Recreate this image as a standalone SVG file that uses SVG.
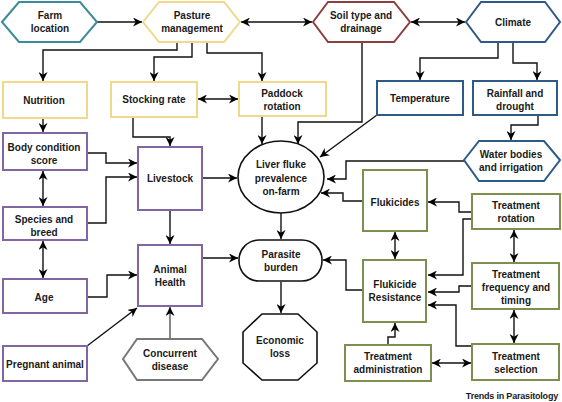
<svg xmlns="http://www.w3.org/2000/svg" width="562" height="402" viewBox="0 0 562 402">
<defs>
<marker id="ah" viewBox="0 0 10 10" refX="10" refY="5" markerWidth="9" markerHeight="9" markerUnits="userSpaceOnUse" orient="auto-start-reverse">
<path d="M0,0 L10,5 L0,10 L3,5 z" fill="#000"/>
</marker>
</defs>
<style>
text{font-family:"Liberation Sans",Arial,sans-serif;font-weight:bold;font-size:10px;fill:#1a1a1a;text-anchor:middle}
.c{fill:none;stroke:#111;stroke-width:1.4;marker-end:url(#ah)}
.d{fill:none;stroke:#111;stroke-width:1.4;marker-start:url(#ah);marker-end:url(#ah)}
.n{fill:#fff;stroke-width:2}
.teal{stroke:#3f8a9c}
.yel{stroke:#efd98c}
.red{stroke:#8c3f3f}
.blue{stroke:#2e5a88}
.pur{stroke:#8266a3}
.grn{stroke:#7d8f4e}
.gry{stroke:#777}
.blk{stroke:#111}
</style>
<g id="connectors">
<path class="c" d="M97,22 H142"/>
<path class="d" d="M241,22 H312"/>
<path class="d" d="M411,22 H465"/>
<path class="c" d="M177,42 V50 H43 V81"/>
<path class="c" d="M192,42 V57 H154 V81"/>
<path class="c" d="M207,42 V53 H262 V81"/>
<path class="d" d="M198,99 H238"/>
<path class="c" d="M498,42 V58 H420 V80"/>
<path class="c" d="M513,42 V63 H537 V80"/>
<path class="c" d="M538,115 V125 H511 V140"/>
<path class="c" d="M262,116 V144"/>
<path class="c" d="M362,42 V122 H298 V144"/>
<path class="c" d="M377,115 L320,157"/>
<path class="c" d="M464,161 H346 V179 H327"/>
<path class="c" d="M363,201 H343 V193 H321"/>
<path class="c" d="M43,118 V132"/>
<path class="c" d="M133,117 V137 H170 V146"/>
<path class="d" d="M43,171 V206"/>
<path class="d" d="M43,241 V278"/>
<path class="c" d="M87,153 H106 V163 H137"/>
<path class="c" d="M87,223 H106 V177 H137"/>
<path class="c" d="M203,178 H237"/>
<path class="c" d="M170,210 V244"/>
<path class="c" d="M87,297 H107 V275 H137"/>
<path class="c" d="M87,346 L137,308"/>
<path class="c" style="stroke:#555" d="M170,339 V307"/>
<path class="c" d="M203,258 H238"/>
<path class="c" d="M281,213 V239"/>
<path class="c" d="M281,282 V313"/>
<path class="d" d="M395,232 V259"/>
<path class="c" d="M363,290 H346 V260 H323"/>
<path class="c" d="M472,212 H459 V202 H428"/>
<path class="c" d="M472,219 H463 V275 H428"/>
<path class="c" d="M472,286 H459 V292 H428"/>
<path class="c" d="M472,346 H456 V305 H428"/>
<path class="d" d="M514,230 V262"/>
<path class="d" d="M514,310 V343"/>
<path class="c" d="M388,345 V337 H395 V323"/>
<path class="d" d="M432,363 H471"/>
</g>
<g id="farm-location"><polygon class="n teal" points="2,22 19,2 80,2 97,22 80,42 19,42"/><text x="50" y="19">Farm</text><text x="50" y="32">location</text></g>
<g id="pasture-management"><polygon class="n yel" points="143,22 159,2 224,2 240,22 224,42 159,42"/><text x="192" y="19">Pasture</text><text x="192" y="32">management</text></g>
<g id="soil-type"><polygon class="n red" points="313,22 328,2 394,2 410,22 394,42 328,42"/><text x="361" y="19">Soil type and</text><text x="361" y="32">drainage</text></g>
<g id="climate"><polygon class="n blue" points="466,22 481,2 545,2 560,22 545,42 481,42"/><text x="513" y="26">Climate</text></g>
<g id="nutrition"><rect class="n yel" x="3" y="82" width="84" height="36"/><text x="44" y="104">Nutrition</text></g>
<g id="stocking-rate"><rect class="n yel" x="111" y="82" width="86" height="35"/><text x="154" y="103">Stocking rate</text></g>
<g id="paddock-rotation"><rect class="n yel" x="239" y="82" width="87" height="34"/><text x="282" y="97">Paddock</text><text x="282" y="110">rotation</text></g>
<g id="temperature"><rect class="n blue" x="377" y="81" width="86" height="34"/><text x="420" y="102">Temperature</text></g>
<g id="rainfall"><rect class="n blue" x="473" y="81" width="84" height="34"/><text x="515" y="97">Rainfall and</text><text x="515" y="110">drought</text></g>
<g id="water-bodies"><polygon class="n blue" points="464,160 479,141 544,141 560,160 544,181 479,181"/><text x="511" y="158">Water bodies</text><text x="511" y="171">and irrigation</text></g>
<g id="body-condition"><rect class="n pur" x="3" y="133" width="84" height="37"/><text x="44" y="151">Body condition</text><text x="44" y="164">score</text></g>
<g id="species-breed"><rect class="n pur" x="3" y="207" width="84" height="33"/><text x="44" y="223">Species and</text><text x="44" y="236">breed</text></g>
<g id="age"><rect class="n pur" x="3" y="279" width="84" height="34"/><text x="44" y="301">Age</text></g>
<g id="pregnant-animal"><rect class="n pur" x="3" y="346" width="84" height="35"/><text x="45" y="368">Pregnant animal</text></g>
<g id="livestock"><rect class="n pur" x="138" y="147" width="64" height="63"/><text x="170" y="182">Livestock</text></g>
<g id="animal-health"><rect class="n pur" x="138" y="245" width="64" height="61"/><text x="170" y="273">Animal</text><text x="170" y="286">Health</text></g>
<g id="concurrent-disease"><polygon class="n gry" points="123,359 137,339 202,339 218,359 202,380 137,380"/><text x="170" y="357">Concurrent</text><text x="170" y="370">disease</text></g>
<g id="liver-fluke"><ellipse class="n blk" style="stroke-width:1.6" cx="281" cy="177" rx="43" ry="36"/><text x="281" y="168">Liver fluke</text><text x="281" y="182">prevalence</text><text x="281" y="195">on-farm</text></g>
<g id="parasite-burden"><rect class="n blk" style="stroke-width:1.6" x="239" y="240" width="83" height="41" rx="20"/><text x="281" y="258">Parasite</text><text x="281" y="271">burden</text></g>
<g id="economic-loss"><polygon class="n blk" style="stroke-width:1.6" points="262,314 298,314 317,332 317,363 298,380 262,380 243,363 243,332"/><text x="280" y="344">Economic</text><text x="280" y="357">loss</text></g>
<g id="flukicides"><rect class="n grn" x="363" y="170" width="64" height="61"/><text x="395" y="206">Flukicides</text></g>
<g id="flukicide-resistance"><rect class="n grn" x="363" y="260" width="63" height="62"/><text x="395" y="288">Flukicide</text><text x="395" y="301">Resistance</text></g>
<g id="treatment-rotation"><rect class="n grn" x="472" y="194" width="88" height="35"/><text x="516" y="209">Treatment</text><text x="516" y="222">rotation</text></g>
<g id="treatment-frequency"><rect class="n grn" x="472" y="263" width="87" height="46"/><text x="516" y="278">Treatment</text><text x="516" y="291">frequency and</text><text x="516" y="304">timing</text></g>
<g id="treatment-selection"><rect class="n grn" x="472" y="344" width="87" height="36"/><text x="516" y="360">Treatment</text><text x="516" y="373">selection</text></g>
<g id="treatment-administration"><rect class="n grn" x="345" y="345" width="86" height="36"/><text x="388" y="360">Treatment</text><text x="388" y="373">administration</text></g>
<text x="558" y="399" style="text-anchor:end;font-size:9px;letter-spacing:-0.2px">Trends in Parasitology</text>
</svg>
